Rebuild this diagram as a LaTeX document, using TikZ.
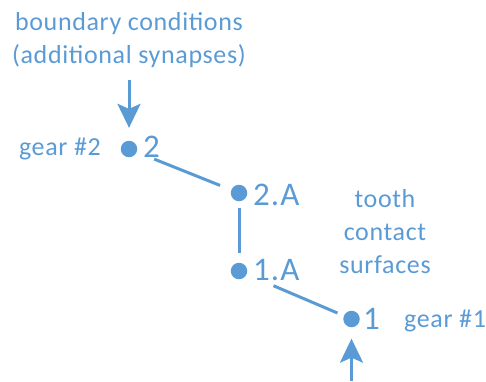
\documentclass[tikz,border=0pt]{standalone}
\usepackage{fontspec}
\setmainfont{Carlito}
\usetikzlibrary{arrows.meta}
\definecolor{ob}{HTML}{5B9BD5}
\begin{document}
\begin{tikzpicture}[x=1pt,y=-1pt,
  dot/.style={circle,fill=ob,inner sep=0pt,minimum size=16.5pt},
  num/.style={text=ob,font=\fontsize{33}{35}\selectfont\addfontfeatures{LetterSpace=3},anchor=base west,inner sep=0pt},
  lbl/.style={text=ob,font=\fontsize{26}{33}\selectfont\addfontfeatures{LetterSpace=2.5},align=center,inner sep=0pt},
  conn/.style={draw=ob,line width=3pt},
  arr/.style={draw=ob,line width=3pt,-{Stealth[length=24pt,width=23pt,inset=5pt]}}]
\useasboundingbox (0,0) rectangle (486,381);
\node[dot] (d2) at (129,149) {};
\node[dot] (d2a) at (239,193) {};
\node[dot] (d1a) at (239,271) {};
\node[dot] (d1) at (351.5,319) {};
\node[num] (n2) at (143,157) {2};
\node[num] (n2a) at (253,205) {2.A};
\node[num] (n1a) at (253,280) {1.A};
\node[num] (n1) at (363,329) {1};
\node[lbl,anchor=base] (bc) at (129,63) {boundary conditions\\(additional synapses)};
\node[lbl,anchor=base east] (g2) at (101,155) {gear \#2};
\node[lbl,anchor=base] (tc) at (385,273) {tooth\\contact\\surfaces};
\node[lbl,anchor=base west] (g1) at (404,327) {gear \#1};
\coordinate (top) at (129,80);
\coordinate (bot) at (351.5,381);
\draw[conn,shorten <=18.7pt,shorten >=11.9pt] (d2) -- (d2a);
\draw[conn,shorten <=7pt,shorten >=10pt] (d2a) -- (d1a);
\draw[conn,shorten <=29pt,shorten >=6.8pt] (d1a) -- (d1);
\draw[arr,shorten >=12.7pt] (top) -- (d2.north);
\draw[arr,shorten >=11.2pt] (bot) -- (d1.south);
\end{tikzpicture}
\end{document}
